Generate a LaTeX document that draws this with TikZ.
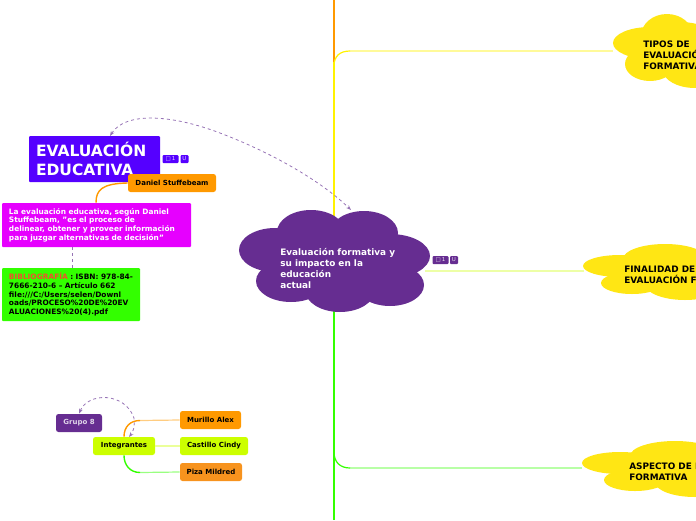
\documentclass[tikz,border=0pt]{standalone}
\usepackage{fontspec}
\setmainfont{DejaVu Sans}
\usepackage{xcolor}
\usetikzlibrary{arrows.meta}
\definecolor{cloudpurple}{HTML}{662d91}
\definecolor{cloudyellow}{HTML}{ffe614}
\definecolor{boxblue}{HTML}{5500ff}
\definecolor{boxmagenta}{HTML}{e600ff}
\definecolor{boxgreen}{HTML}{33ff00}
\definecolor{boxorange}{HTML}{ff9900}
\definecolor{boxlime}{HTML}{ccff00}
\definecolor{boxpiza}{HTML}{f7931e}
\definecolor{linkpurple}{HTML}{9673b5}
\definecolor{biblired}{HTML}{f0502d}
\tikzset{
  boxnode/.style={rounded corners=1.5pt, inner sep=0pt, font=\bfseries\fontsize{7.4}{8.65}\selectfont},
  smallbox/.style={boxnode, rounded corners=2.5pt, align=center, minimum height=18pt, text=black, font=\bfseries\fontsize{7}{8.6}\selectfont},
  cloudtext/.style={anchor=north west, align=left, inner sep=0pt, font=\bfseries\fontsize{8.9}{11}\selectfont},
  badge/.style={fill=#1, rounded corners=1pt, inner sep=0pt, minimum height=8pt, text=white!85!#1, font=\fontsize{5.5}{5.5}\selectfont},
  dashlink/.style={linkpurple, dashed, line width=0.8pt, {Stealth[length=5pt]}-{Stealth[length=5pt]}}
}
\begin{document}
\begin{tikzpicture}[x=1pt, y=-1pt, line width=0.6pt]
\useasboundingbox (0,0) rectangle (696,520);
\clip (0,0) rectangle (696,520);

% ---------------- spine ----------------
\coordinate (spinetop) at (334,0);
\coordinate (spineorange) at (334,62);
\coordinate (spinemid) at (334,260);
\coordinate (spinebottom) at (334,520);
\coordinate (turntop) at (334,66);
\coordinate (turnlow) at (334,452);
\draw[boxorange, line width=2.5pt] (spinetop) -- (spineorange);
\draw[yellow, line width=2.5pt] (spineorange) -- (spinemid);
\draw[boxgreen, line width=2.5pt] (spinemid) -- (spinebottom);

% ---------------- clouds ----------------
\begin{scope}[cloudpurple]
  \fill (335,260) ellipse (70 and 36);
  \fill (275,250) ellipse (36 and 22);
  \fill (311,232) ellipse (34 and 22);
  \fill (364,233) ellipse (34 and 22);
  \fill (390,256) ellipse (40 and 22);
  \fill (390,285) ellipse (34 and 21);
  \fill (291,281) ellipse (35 and 21);
  \fill (340,290) ellipse (35 and 22);
\end{scope}
\begin{scope}[cloudyellow]
  \fill (680,50) ellipse (45 and 28);
  \fill (650,43) ellipse (37 and 16);
  \fill (667,36) ellipse (26 and 22);
  \fill (650,64) ellipse (25 and 17);
  \fill (695,70) ellipse (32 and 18);
  \fill (620,266) ellipse (37 and 11);
  \fill (665,259) ellipse (42 and 15);
  \fill (632,283) ellipse (31 and 11);
  \fill (685,284) ellipse (40 and 16);
  \fill (670,272) ellipse (45 and 15);
  \fill (620,463) ellipse (38 and 11);
  \fill (675,456) ellipse (45 and 15);
  \fill (635,480) ellipse (31 and 11);
  \fill (695,482) ellipse (40 and 15);
  \fill (675,468) ellipse (45 and 15);
\end{scope}

% ---------------- texts of the clouds ----------------
\node[cloudtext, text=white] (centre) at (280,248) {Evaluación formativa y\\su impacto en la\\educación\\actual};
\node[cloudtext] (tipos) at (643,41) {TIPOS DE\\EVALUACIÓN\\FORMATIVA};
\node[cloudtext] (finalidad) at (624,266) {FINALIDAD DE LA\\EVALUACIÓN FORMATIVA};
\node[cloudtext] (aspecto) at (629,463) {ASPECTO DE LA\\FORMATIVA};
\coordinate (tiposend) at (613,51);
\coordinate (finalend) at (584,271);
\coordinate (centreright) at (425,271);
\coordinate (aspectoend) at (582,468);

% ---------------- left boxes ----------------
\node[boxnode, fill=boxblue, text=white, rounded corners=1pt, minimum width=131pt, minimum height=46pt,
      text width=117pt, align=left, font=\bfseries\fontsize{15.5}{19}\selectfont] (evaluacion) at (94.5,159) {EVALUACIÓN\\EDUCATIVA};
\node[smallbox, fill=boxorange, minimum width=88pt] (daniel) at (172,183) {Daniel Stuffebeam};
\node[boxnode, fill=boxmagenta, text=white, rounded corners=1pt, minimum width=189pt, minimum height=44pt,
      text width=175pt, align=left] (definicion) at (96.5,225) {La evaluación educativa, según Daniel\\Stuffebeam, "es el proceso de\\delinear, obtener y proveer información\\para juzgar alternativas de decisión"};
\node[boxnode, fill=boxgreen, rounded corners=1pt, minimum width=138pt, minimum height=53pt,
      text width=124pt, align=left] (biblio) at (71,294.5) {\textcolor{biblired}{BIBLIOGRAFÍA} : ISBN: 978-84-\\7666-210-6 – Artículo 662\\file:///C:/Users/selen/Downl\\oads/PROCESO\%20DE\%20EV\\ALUACIONES\%20(4).pdf};

% ---------------- group ----------------
\node[smallbox, fill=cloudpurple, text=white!80!cloudpurple, minimum width=46pt] (grupo) at (79,423) {Grupo 8};
\node[smallbox, fill=boxlime, minimum width=62pt] (integrantes) at (124,446) {Integrantes};
\node[smallbox, fill=boxorange, minimum width=61pt] (murillo) at (210.5,420) {Murillo Alex};
\node[smallbox, fill=boxlime, minimum width=68pt] (castillo) at (214,446) {Castillo Cindy};
\node[smallbox, fill=boxpiza, minimum width=62pt] (piza) at (211,472) {Piza Mildred};

% ---------------- small badges ----------------
\node[badge=boxblue, minimum width=16pt] (notesa) at (170.5,159) {□\,1};
\node[badge=boxblue, minimum width=8pt] (linksa) at (184.5,159) {U};
\node[badge=cloudpurple, minimum width=16pt] (notesb) at (440.5,260) {□\,1};
\node[badge=cloudpurple, minimum width=8pt] (linksb) at (454,260) {U};

% ---------------- connectors ----------------
\draw[yellow!40, line width=1.2pt] (350,51) -- (tiposend);
\draw[yellow, line width=1.2pt] (turntop) .. controls (334,56) and (340,51) .. (350,51);
\draw[boxlime!35, line width=1.2pt] (centreright) -- (finalend);
\draw[boxgreen!35, line width=1.2pt] (350,468) -- (aspectoend);
\draw[boxgreen, line width=1.2pt] (turnlow) .. controls (334,462) and (340,468) .. (350,468);

\draw[boxorange, line width=1.4pt] (definicion.north -| 96,0) .. controls (96,190) and (102,183.5) .. (daniel.west);
\draw[linkpurple, dashed, line width=0.8pt] (definicion.south -| 72,0) -- (biblio.north -| 72,0);

\draw[boxorange!50, line width=1.2pt] (140,420.5) -- (murillo.west);
\draw[boxorange, line width=1.4pt] (integrantes.north) .. controls (124,427) and (130,420.5) .. (140,420.5);
\draw[boxlime!40, line width=1.2pt] (integrantes) -- (castillo);
\draw[boxgreen!50, line width=1.2pt] (140,472.5) -- (piza.west);
\draw[boxgreen, line width=1.4pt] (integrantes.south) .. controls (124,465) and (130,472.5) .. (140,472.5);

\draw[dashlink] (110,136) .. controls (125,112) and (170,114) .. (220,133) .. controls (270,152) and (320,180) .. (351,210);
\draw[dashlink] (grupo.north) .. controls (88,392) and (125,392) .. (134,418) .. controls (135,427) and (133,432) .. (129,437);

\end{tikzpicture}
\end{document}
